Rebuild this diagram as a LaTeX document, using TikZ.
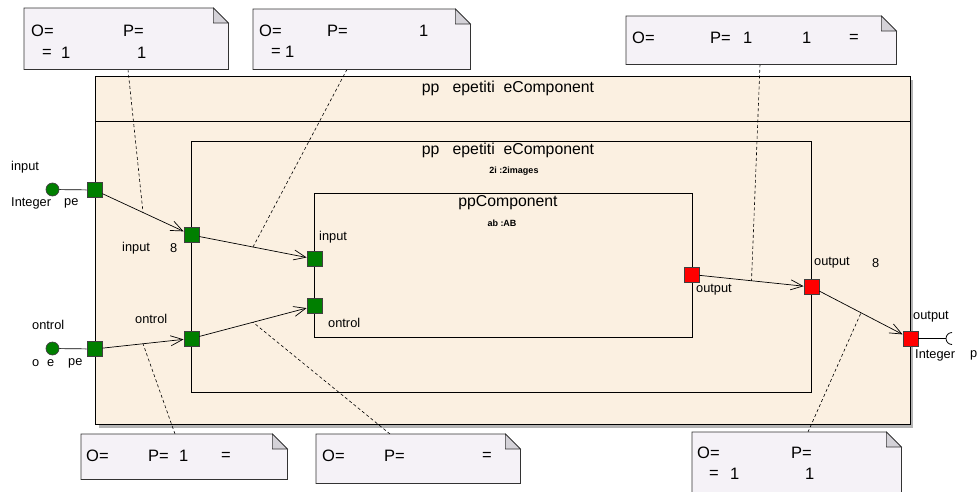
\documentclass[tikz,border=0pt]{standalone}
\usepackage{fontspec}
\setmainfont{Liberation Sans}
\usetikzlibrary{arrows.meta,calc}
\definecolor{boxfill}{HTML}{FBF0E1}
\definecolor{notefill}{HTML}{F5F2F7}
\definecolor{foldfill}{HTML}{D4D2D8}
\definecolor{portgreen}{HTML}{007F00}
\definecolor{portred}{HTML}{FF0000}
\definecolor{shadowgray}{HTML}{B4B4B4}
\begin{document}
\begin{tikzpicture}[x=1pt,y=-1pt,
  lbl/.style={inner sep=0pt, anchor=west, font=\fontsize{12.8}{14}\selectfont},
  ntxt/.style={inner sep=0pt, anchor=west, font=\fontsize{16.5}{18}\selectfont},
  ttl/.style={inner sep=0pt, font=\fontsize{15.8}{17}\selectfont},
  subttl/.style={inner sep=0pt, font=\bfseries\fontsize{9}{10}\selectfont},
  port/.style={draw=black!75, line width=0.8pt, minimum size=15pt, inner sep=0pt},
  gport/.style={port, fill=portgreen},
  rport/.style={port, fill=portred},
  ball/.style={circle, draw=black!75, line width=0.7pt, fill=portgreen, minimum size=13pt, inner sep=0pt},
  conn/.style={draw, line width=0.7pt, -{Straight Barb[length=12pt,width=10pt]}},
  ncon/.style={draw, line width=0.6pt, dash pattern=on 3pt off 2.5pt},
  container/.style={draw, line width=0.8pt, fill=boxfill, inner sep=0pt, anchor=north west},
  notebox/.style={inner sep=0pt, anchor=north west},
  noteshape/.style={fill=notefill, draw=black!80, line width=0.7pt},
  foldshape/.style={fill=foldfill, draw=black!80, line width=0.6pt},
]
\useasboundingbox (0,0) rectangle (978,491);

% outer container with shadow
\fill[shadowgray] (98.5,79.5) rectangle (913,427.5);
\node[container, minimum width=815pt, minimum height=348pt] (outer) at (95,76) {};
\coordinate (hdrL) at (95,121);
\coordinate (hdrR) at (910,121);
\draw[line width=0.8pt] (hdrL) -- (hdrR);
\node[ttl] (t1) at (508,88) {pp\ \ \ epetiti\ \ eComponent};

% inner container
\node[container, minimum width=620pt, minimum height=251pt] (inner) at (191,141) {};
\node[ttl] (t2) at (508,150) {pp\ \ \ epetiti\ \ eComponent};
\node[subttl] (s2) at (514,171) {2i :2images};

% innermost container
\node[container, minimum width=378pt, minimum height=144pt] (core) at (314,193) {};
\node[ttl] (t3) at (508,203) {ppComponent};
\node[subttl] (s3) at (502,223) {ab :AB};

% ports
\node[gport] (pOin) at (94.5,190) {};
\node[gport] (pOctl) at (94.5,349) {};
\node[rport] (pOout) at (910.5,338.5) {};
\node[gport] (pIin) at (191.5,235) {};
\node[gport] (pIctl) at (191.5,338.5) {};
\node[rport] (pIout) at (811.5,287) {};
\node[gport] (pAin) at (314.5,259) {};
\node[gport] (pActl) at (314.5,306) {};
\node[rport] (pAout) at (691.5,274.5) {};

% provided interfaces (balls) and required interface (socket)
\node[ball] (bIn) at (52.5,189.5) {};
\node[ball] (bCtl) at (52.5,348.5) {};
\draw[line width=0.7pt] (bIn) -- (pOin);
\draw[line width=0.7pt] (bCtl) -- (pOctl);
\coordinate (sock) at (946,338.5);
\draw[line width=0.7pt] (pOout) -- (sock);
\draw[line width=0.8pt] (952,332.5) arc[start angle=90, end angle=270, radius=6pt];

% connectors
\draw[conn] (pOin) -- (pIin);
\draw[conn] (pIin) -- (pAin);
\draw[conn] (pOctl) -- (pIctl);
\draw[conn] (pIctl) -- (pActl);
\draw[conn] (pAout) -- (pIout);
\draw[conn] (pIout) -- (pOout);

\coordinate (m1) at ($(pOin)!0.5!(pIin)$);
\coordinate (m2) at ($(pIin)!0.5!(pAin)$);
\coordinate (m3) at ($(pAout)!0.5!(pIout)$);
\coordinate (m4) at ($(pOctl)!0.5!(pIctl)$);
\coordinate (m5) at ($(pIctl)!0.5!(pActl)$);
\coordinate (m6) at ($(pIout)!0.5!(pOout)$);

% notes
\node[notebox, minimum width=204pt, minimum height=61pt] (n1) at (24,8) {};
\node[notebox, minimum width=217pt, minimum height=60pt] (n2) at (253,9) {};
\node[notebox, minimum width=270pt, minimum height=48pt] (n3) at (626,16) {};
\node[notebox, minimum width=206pt, minimum height=45pt] (n4) at (81,434) {};
\node[notebox, minimum width=204pt, minimum height=49pt] (n5) at (316,434) {};
\node[notebox, minimum width=209pt, minimum height=68pt] (n6) at (692,432) {};

\draw[ncon] ([xshift=104pt]n1.south west) -- (m1);
\draw[ncon] ([xshift=94pt]n2.south west) -- (m2);
\draw[ncon] ([xshift=134pt]n3.south west) -- (m3);
\draw[ncon] ([xshift=94pt]n4.north west) -- (m4);
\draw[ncon] ([xshift=74pt]n5.north west) -- (m5);
\draw[ncon] ([xshift=116pt]n6.north west) -- (m6);

\foreach \n in {n1,n2,n3,n4,n5,n6}{
  \path[noteshape] (\n.south west) -- (\n.north west) -- ([xshift=-15pt]\n.north east)
     -- ([yshift=-15pt]\n.north east) -- (\n.south east) -- cycle;
  \path[foldshape] ([xshift=-15pt]\n.north east) -- ([xshift=-15pt,yshift=-15pt]\n.north east)
     -- ([yshift=-15pt]\n.north east) -- cycle;
}

% note texts
\node[ntxt] (a1) at (31,31) {O=};
\node[ntxt] (a2) at (123,31) {P=};
\node[ntxt] (a3) at (42,53) {=};
\node[ntxt] (a4) at (61,53) {1};
\node[ntxt] (a5) at (137,53) {1};

\node[ntxt] (b1) at (259,31) {O=};
\node[ntxt] (b2) at (327,31) {P=};
\node[ntxt] (b3) at (419,31) {1};
\node[ntxt] (b4) at (271,52) {=};
\node[ntxt] (b5) at (285,52) {1};

\node[ntxt] (c1) at (632,38) {O=};
\node[ntxt] (c2) at (710,38) {P=};
\node[ntxt] (c3) at (743,38) {1};
\node[ntxt] (c4) at (802,38) {1};
\node[ntxt] (c5) at (849,38) {=};

\node[ntxt] (d1) at (86,456) {O=};
\node[ntxt] (d2) at (148,456) {P=};
\node[ntxt] (d3) at (179,456) {1};
\node[ntxt] (d4) at (221,456) {=};

\node[ntxt] (e1) at (322,456) {O=};
\node[ntxt] (e2) at (384,456) {P=};
\node[ntxt] (e3) at (482,456) {=};

\node[ntxt] (f1) at (697,453) {O=};
\node[ntxt] (f2) at (791,453) {P=};
\node[ntxt] (f3) at (709,474) {=};
\node[ntxt] (f4) at (730,474) {1};
\node[ntxt] (f5) at (805,474) {1};

% port labels
\node[lbl] (l1) at (11,167) {input};
\node[lbl] (l2) at (11,203) {Integer};
\node[lbl] (l3) at (64,203) {pe};
\node[lbl] (l4) at (122,248) {input};
\node[lbl] (l5) at (170,248) {8};
\node[lbl] (l6) at (32,325) {ontrol};
\node[lbl] (l7) at (32,363) {o};
\node[lbl] (l8) at (47,363) {e};
\node[lbl] (l9) at (68,363) {pe};
\node[lbl] (l10) at (135,319) {ontrol};
\node[lbl] (l11) at (319,237) {input};
\node[lbl] (l12) at (328,323) {ontrol};
\node[lbl] (l13) at (696,290) {output};
\node[lbl] (l14) at (814,263) {output};
\node[lbl] (l15) at (872,263) {8};
\node[lbl] (l16) at (913,317) {output};
\node[lbl] (l17) at (915,355) {Integer};
\node[lbl] (l18) at (970,355) {p};
\end{tikzpicture}
\end{document}
